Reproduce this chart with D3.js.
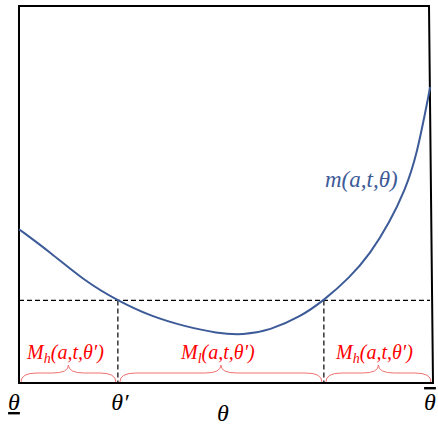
<!DOCTYPE html>
<html>
<head>
<meta charset="utf-8">
<script src="https://cdn.jsdelivr.net/npm/d3@7"></script>
<style>
  body { margin: 0; background: #fff; }
  text { font-family: "Liberation Serif", "DejaVu Serif", serif; font-style: italic; }
</style>
</head>
<body>
<div id="chart"></div>
<script>
// curve m(a,t,theta), theta and m both scaled 0..1
var thetaVals = [0, 0.078, 0.160, 0.240, 0.320, 0.403, 0.480, 0.544, 0.609, 0.682, 0.740, 0.803, 0.852, 0.900, 0.937, 0.965, 0.998];
var mVals     = [0.408, 0.345, 0.270, 0.218, 0.177, 0.150, 0.132, 0.127, 0.140, 0.175, 0.219, 0.280, 0.342, 0.427, 0.512, 0.600, 0.785];
var level = 0.219;            // m(a,t,theta') level
var cuts = [0, 0.240, 0.740, 1]; // theta_low, theta', theta'', theta_high
var regionLabels = ["h", "l", "h"];

var W = 438, H = 425;
var svg = d3.select("#chart").append("svg")
    .attr("width", W)
    .attr("height", H);

var x = d3.scaleLinear().domain([0, 1]).range([19, 431]);
var y = d3.scaleLinear().domain([0, 1]).range([383, 6]);

// frame (right edge is a bit slanted in the original)
svg.append("path")
  .attr("d", "M" + x(0) + "," + y(0) + "L" + x(0) + "," + y(1) + "L" + (x(1) - 2) + "," + y(1) + "L" + (x(1) + 2) + "," + y(0) + "Z")
  .attr("fill", "none")
  .attr("stroke", "black")
  .attr("stroke-width", 2);

// dashed level line and verticals
svg.append("line")
  .attr("x1", x(0)).attr("x2", x(1) - 1)
  .attr("y1", y(level)).attr("y2", y(level))
  .attr("stroke", "black").attr("stroke-width", 1.2)
  .attr("stroke-dasharray", "5,3");

svg.selectAll("line.vcut")
  .data([cuts[1], cuts[2]])
  .enter()
  .append("line")
  .attr("class", "vcut")
  .attr("x1", function(d){ return x(d); })
  .attr("x2", function(d){ return x(d); })
  .attr("y1", y(level))
  .attr("y2", y(0))
  .attr("stroke", "black").attr("stroke-width", 1.2)
  .attr("stroke-dasharray", "5,3");

// the curve
var line = d3.line()
  .x(function(d, i){ return x(thetaVals[i]); })
  .y(function(d){ return y(d); })
  .curve(d3.curveBasis);

svg.append("path")
  .datum(mVals)
  .attr("d", line)
  .attr("fill", "none")
  .attr("stroke", "#3d5b98")
  .attr("stroke-width", 2);

svg.append("text")
  .attr("x", 325)
  .attr("y", 187)
  .attr("font-size", 23)
  .attr("fill", "#3d5b98")
  .text("m(a,t,θ)");

// braces
function brace(x1, x2, yb) {
  var ym = yb - 9, yt = yb - 17, mid = (x1 + x2) / 2, w = 16;
  return "M" + x1 + "," + yb +
    "Q" + x1 + "," + ym + " " + (x1 + w) + "," + ym +
    "L" + (mid - w) + "," + ym +
    "Q" + mid + "," + ym + " " + mid + "," + yt +
    "Q" + mid + "," + ym + " " + (mid + w) + "," + ym +
    "L" + (x2 - w) + "," + ym +
    "Q" + x2 + "," + ym + " " + x2 + "," + yb;
}

var regions = regionLabels.map(function(s, i){
  return { sub: s, a: cuts[i], b: cuts[i + 1] };
});

svg.selectAll("path.brace")
  .data(regions)
  .enter()
  .append("path")
  .attr("class", "brace")
  .attr("d", function(d, i){
    var pad = 2;
    return brace(x(d.a) + pad, x(d.b) - pad + (i == 2 ? 2 : 0), y(0) - 1);
  })
  .attr("fill", "none")
  .attr("stroke", "#f07070")
  .attr("stroke-width", 1);

var lab = svg.selectAll("text.reg")
  .data(regions)
  .enter()
  .append("text")
  .attr("class", "reg")
  .attr("x", function(d){ return (x(d.a) + x(d.b)) / 2 - 3; })
  .attr("y", 359)
  .attr("text-anchor", "middle")
  .attr("font-size", 20)
  .attr("fill", "#ff0000");
lab.append("tspan").text("M");
lab.append("tspan").attr("dy", 4).attr("font-size", 14).text(function(d){ return d.sub; });
lab.append("tspan").attr("dy", -4).text("(a,t,θ′)");

// theta tick labels
var ticks = [
  { v: cuts[0], t: "θ", under: true },
  { v: cuts[1], t: "θ′" },
  { v: cuts[3], t: "θ", over: true }
];
svg.selectAll("text.tick")
  .data(ticks)
  .enter()
  .append("text")
  .attr("class", "tick")
  .attr("x", function(d){ return x(d.v) + (d.under ? -5 : d.over ? -1 : 2); })
  .attr("y", 410)
  .attr("text-anchor", "middle")
  .attr("font-size", 24)
  .attr("fill", "black")
  .attr("text-decoration", function(d){ return d.under ? "underline" : d.over ? "overline" : null; })
  .text(function(d){ return d.t; });

svg.append("text")
  .attr("x", (x(0) + x(1)) / 2 - 2)
  .attr("y", 421)
  .attr("text-anchor", "middle")
  .attr("font-size", 24)
  .attr("fill", "black")
  .text("θ");
</script>
</body>
</html>
